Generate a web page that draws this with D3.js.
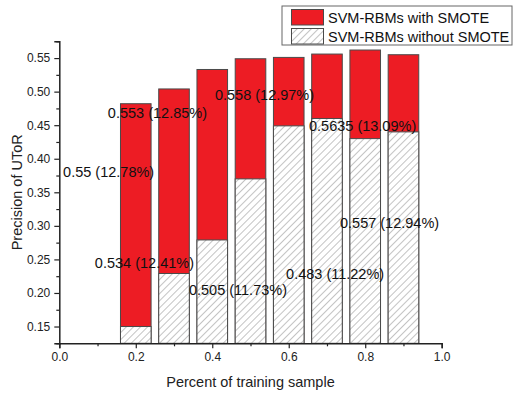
<!DOCTYPE html>
<html>
<head>
<meta charset="utf-8">
<script src="https://cdn.jsdelivr.net/npm/d3@7"></script>
<style>
  body { margin: 0; background: #fff; }
  svg { font-family: Arial, "Liberation Sans", sans-serif; }
</style>
</head>
<body>
<svg></svg>
<script>
// training fraction for each bar
var percents = [0.2, 0.3, 0.4, 0.5, 0.6, 0.7, 0.8, 0.9];
var withSmote = [0.482, 0.504, 0.533, 0.549, 0.551, 0.556, 0.562, 0.555];
var withoutSmote = [0.150, 0.229, 0.279, 0.370, 0.449, 0.460, 0.430, 0.440];

var seriesNames = ['SVM-RBMs with SMOTE', 'SVM-RBMs without SMOTE'];

// floating labels (anchored at left edge, in data units)
var labelText = ['0.553 (12.85%)', '0.55 (12.78%)', '0.558 (12.97%)', '0.5635 (13.09%)',
                 '0.534 (12.41%)', '0.505 (11.73%)', '0.483 (11.22%)', '0.557 (12.94%)'];
var labelX = [0.127, 0.010, 0.407, 0.653, 0.093, 0.339, 0.593, 0.734];
var labelY = [0.468, 0.380, 0.496, 0.449, 0.245, 0.205, 0.228, 0.305];

var xTicks = [0.0, 0.2, 0.4, 0.6, 0.8, 1.0];
var yTicks = [0.15, 0.20, 0.25, 0.30, 0.35, 0.40, 0.45, 0.50, 0.55];

var W = 513, H = 394;
var plotL = 59.3, plotR = 441.7, plotT = 41.3, plotB = 343.3;
var barW = 0.08;

var svg = d3.select('svg').attr('width', W).attr('height', H);

var x = d3.scaleLinear().domain([0, 1]).range([plotL, plotR]);
var y = d3.scaleLinear().domain([0.125, 0.575]).range([plotB, plotT]);

var defs = svg.append('defs');
defs.append('pattern')
    .attr('id', 'hatch')
    .attr('patternUnits', 'userSpaceOnUse')
    .attr('width', 5).attr('height', 5)
    .attr('patternTransform', 'rotate(45)')
  .append('line')
    .attr('x1', 0).attr('y1', 0).attr('x2', 0).attr('y2', 5)
    .attr('stroke', '#6a6a6a').attr('stroke-width', 0.8);

var red = '#ed1c24';
var edge = '#4a4a4a';

// red bars behind
svg.append('g').selectAll('rect')
    .data(percents)
    .enter().append('rect')
    .attr('x', function(d) { return x(d - barW / 2); })
    .attr('width', function(d) { return x(barW) - x(0); })
    .attr('y', function(d, i) { return y(withSmote[i]); })
    .attr('height', function(d, i) { return y(0.125) - y(withSmote[i]); })
    .attr('fill', red)
    .attr('stroke', edge).attr('stroke-width', 1);

// hatched bars in front
var hb = svg.append('g').selectAll('g')
    .data(percents)
    .enter().append('g');
hb.append('rect')
    .attr('x', function(d) { return x(d - barW / 2); })
    .attr('width', function(d) { return x(barW) - x(0); })
    .attr('y', function(d, i) { return y(withoutSmote[i]); })
    .attr('height', function(d, i) { return y(0.125) - y(withoutSmote[i]); })
    .attr('fill', '#fff');
hb.append('rect')
    .attr('x', function(d) { return x(d - barW / 2); })
    .attr('width', function(d) { return x(barW) - x(0); })
    .attr('y', function(d, i) { return y(withoutSmote[i]); })
    .attr('height', function(d, i) { return y(0.125) - y(withoutSmote[i]); })
    .attr('fill', 'url(#hatch)')
    .attr('stroke', edge).attr('stroke-width', 1);

// axes
var xMinor = [0.1, 0.3, 0.5, 0.7, 0.9];
var yMinor = [0.125, 0.175, 0.225, 0.275, 0.325, 0.375, 0.425, 0.475, 0.525, 0.575];

svg.append('g').attr('transform', 'translate(0,' + plotB + ')')
    .call(d3.axisBottom(x).tickValues(xTicks).tickFormat(d3.format('.1f')).tickSize(5).tickPadding(4));
svg.append('g').attr('transform', 'translate(0,' + plotB + ')')
    .call(d3.axisBottom(x).tickValues(xMinor).tickFormat('').tickSize(3))
    .select('.domain').remove();

svg.append('g').attr('transform', 'translate(' + plotL + ',0)')
    .call(d3.axisLeft(y).tickValues(yTicks).tickFormat(d3.format('.2f')).tickSize(5).tickPadding(4));
svg.append('g').attr('transform', 'translate(' + plotL + ',0)')
    .call(d3.axisLeft(y).tickValues(yMinor).tickFormat('').tickSize(3))
    .select('.domain').remove();

svg.selectAll('.domain').attr('stroke', '#222').attr('stroke-width', 1.5);
svg.selectAll('.tick line').attr('stroke', '#222').attr('stroke-width', 1.2);
svg.selectAll('.tick text').attr('fill', '#222').style('font-size', '12px');

svg.append('text')
    .attr('x', (plotL + plotR) / 2).attr('y', 387)
    .attr('text-anchor', 'middle')
    .style('font-size', '14.5px').attr('fill', '#222')
    .text('Percent of training sample');

svg.append('text')
    .attr('transform', 'translate(22,' + ((plotT + plotB) / 2) + ') rotate(-90)')
    .attr('text-anchor', 'middle')
    .style('font-size', '14.5px').attr('fill', '#222')
    .text('Precision of UToR');

// floating labels
svg.append('g').selectAll('text')
    .data(labelText)
    .enter().append('text')
    .attr('x', function(d, i) { return x(labelX[i]); })
    .attr('y', function(d, i) { return y(labelY[i]); })
    .attr('dy', '0.36em')
    .style('font-size', '14.5px').attr('fill', '#111')
    .text(function(d) { return d; });

// legend
var lg = svg.append('g');
lg.append('rect')
    .attr('x', 282).attr('y', 6).attr('width', 230).attr('height', 39)
    .attr('fill', '#fff').attr('stroke', '#666').attr('stroke-width', 1);
var fills = [red, 'url(#hatch)'];
seriesNames.forEach(function(name, i) {
    lg.append('rect')
        .attr('x', 291.5).attr('y', 9.5 + i * 19).attr('width', 32).attr('height', 15.5)
        .attr('fill', fills[i]).attr('stroke', edge).attr('stroke-width', 1);
    lg.append('text')
        .attr('x', 328).attr('y', 17.5 + i * 19).attr('dy', '0.36em')
        .style('font-size', '14.5px').attr('fill', '#111')
        .text(name);
});
</script>
</body>
</html>
